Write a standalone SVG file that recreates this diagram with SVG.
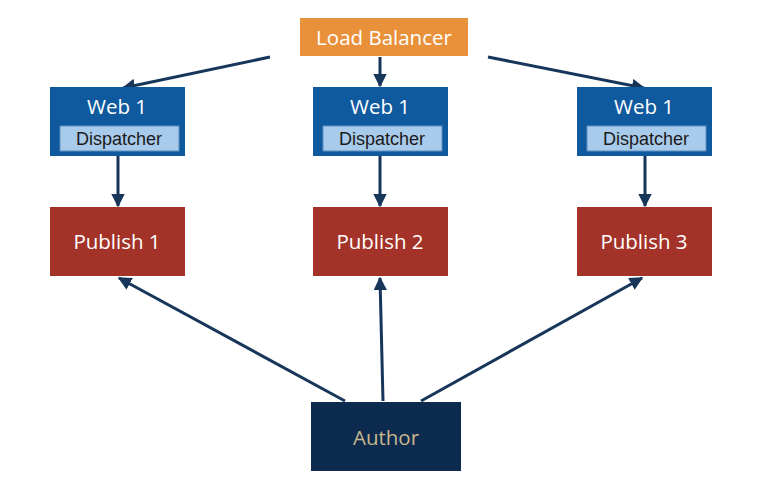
<svg xmlns="http://www.w3.org/2000/svg" width="768" height="489" viewBox="0 0 768 489">
<style>
.web{fill:#0F5A9E}
.disp{fill:#A9CBEB;stroke:#5C8DBF;stroke-width:1}
.pub{fill:#A33228}
.t{font-family:"Open Sans","Noto Sans",sans-serif;font-size:20.5px;fill:#FFFFFF;text-anchor:middle;dominant-baseline:central}
.d{font-family:"Liberation Sans",Arial,sans-serif;font-size:18px;fill:#1A1A1A;text-anchor:middle;dominant-baseline:central}
.c{stroke:#17365A;stroke-width:3;fill:none;marker-end:url(#ah)}
</style>
<defs>
<marker id="ah" viewBox="0 0 10 10" refX="9" refY="5" markerWidth="4.5" markerHeight="4.5" orient="auto" markerUnits="strokeWidth">
<path d="M0,0 L10,5 L0,10 z" fill="#17365A"/>
</marker>
</defs>
<rect width="768" height="489" fill="#FFFFFF"/>
<g id="connectors">
<line class="c" x1="270" y1="57" x2="123" y2="88"/>
<line class="c" x1="380" y1="57" x2="380" y2="86"/>
<line class="c" x1="488" y1="57" x2="644" y2="88"/>
<line class="c" x1="118" y1="156" x2="118" y2="206"/>
<line class="c" x1="380" y1="156" x2="380" y2="206"/>
<line class="c" x1="645" y1="156" x2="645" y2="206"/>
<line class="c" x1="345" y1="401" x2="119" y2="278"/>
<line class="c" x1="383" y1="401" x2="380" y2="278"/>
<line class="c" x1="421" y1="401" x2="642" y2="278"/>
</g>
<g id="lb">
<rect x="300" y="18" width="168" height="38" fill="#E8913A"/>
<text class="t" x="384" y="37">Load Balancer</text>
</g>
<g id="web1">
<rect class="web" x="50" y="87" width="135" height="69"/>
<text class="t" x="117" y="106">Web 1</text>
<rect class="disp" x="60" y="126" width="119" height="25"/>
<text class="d" x="119" y="138.5">Dispatcher</text>
</g>
<g id="web2">
<rect class="web" x="313" y="87" width="135" height="69"/>
<text class="t" x="380" y="106">Web 1</text>
<rect class="disp" x="323" y="126" width="119" height="25"/>
<text class="d" x="382" y="138.5">Dispatcher</text>
</g>
<g id="web3">
<rect class="web" x="577" y="87" width="135" height="69"/>
<text class="t" x="644" y="106">Web 1</text>
<rect class="disp" x="587" y="126" width="119" height="25"/>
<text class="d" x="646" y="138.5">Dispatcher</text>
</g>
<g id="pub1">
<rect class="pub" x="50" y="207" width="135" height="69"/>
<text class="t" x="117" y="241">Publish 1</text>
</g>
<g id="pub2">
<rect class="pub" x="313" y="207" width="135" height="69"/>
<text class="t" x="380" y="241">Publish 2</text>
</g>
<g id="pub3">
<rect class="pub" x="577" y="207" width="135" height="69"/>
<text class="t" x="644" y="241">Publish 3</text>
</g>
<g id="author">
<rect x="311" y="402" width="150" height="69" fill="#0C2B4E"/>
<text class="t" x="386" y="437" style="fill:#C9B88E">Author</text>
</g>
</svg>
